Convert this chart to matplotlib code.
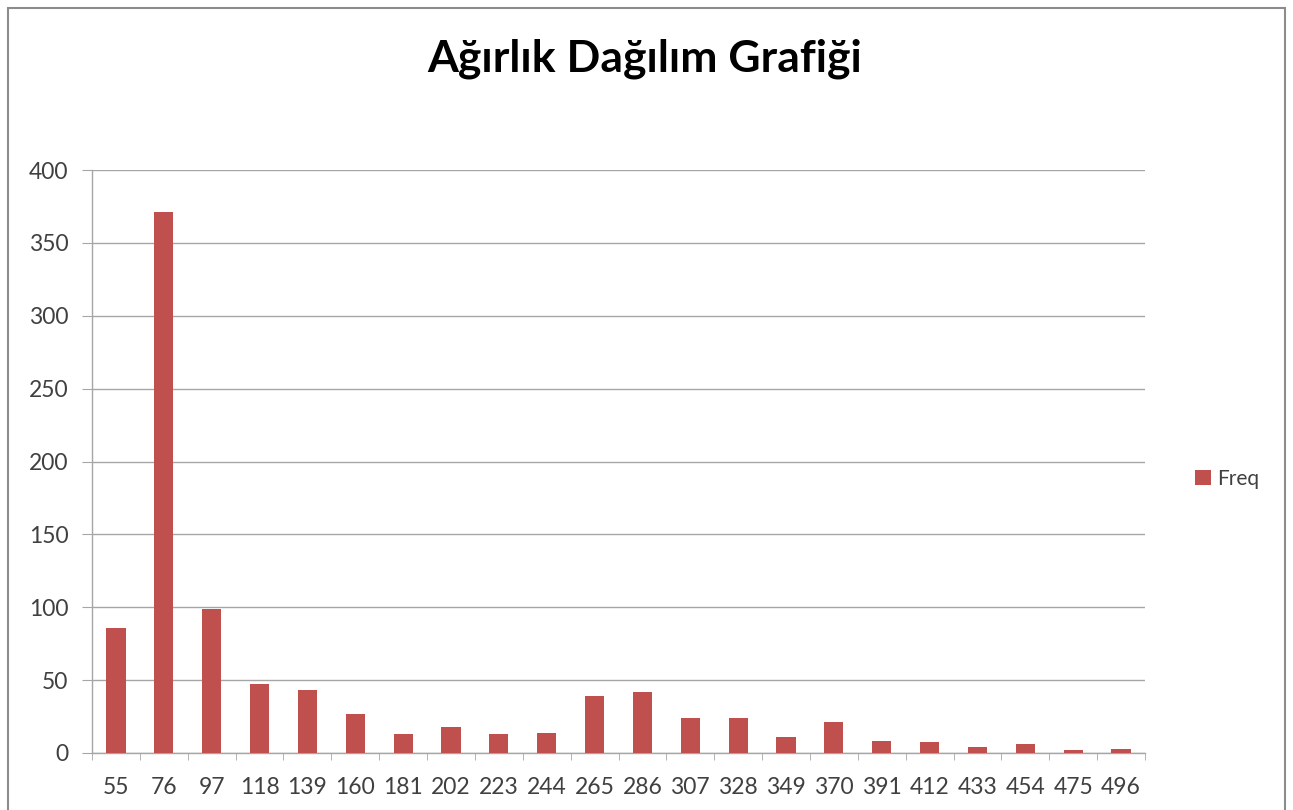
import matplotlib
matplotlib.use('agg')
from matplotlib import pyplot as plt
from matplotlib.patches import Rectangle
import numpy as np

categories = ['55', '76', '97', '118', '139', '160', '181', '202', '223', '244', '265',
              '286', '307', '328', '349', '370', '391', '412', '433', '454', '475', '496']
freq = [86, 371, 99, 47, 43, 27, 13, 18, 13, 14, 39,
        42, 24, 24, 11, 21, 8, 7.5, 4, 6, 2, 2.5]
y_ticks = [0, 50, 100, 150, 200, 250, 300, 350, 400]

plt.rcParams['font.family'] = ['Lato', 'DejaVu Sans']

fig = plt.figure(figsize=(12.93, 8.10), dpi=100)
ax = fig.add_axes([0.0712, 0.0704, 0.8143, 0.7196])

x = np.arange(len(categories))
bars = ax.bar(x, freq, width=0.4, color='#C0504D', label='Freq', zorder=3)

ax.set_xlim(-0.5, len(categories) - 0.5)
ax.set_ylim(0, 400)
ax.set_yticks(y_ticks)
ax.set_xticks(x)
ax.set_xticklabels(categories)
ax.set_xticks(np.arange(-0.5, len(categories), 1.0), minor=True)

ax.grid(axis='y', color='#A6A6A6', linewidth=1.0, zorder=0)
ax.set_axisbelow(True)

for s in ['top', 'right']:
    ax.spines[s].set_visible(False)
for s in ['left', 'bottom']:
    ax.spines[s].set_color('#A6A6A6')
    ax.spines[s].set_linewidth(1.0)

ax.tick_params(axis='x', which='major', length=0, pad=17, labelsize=16.5, labelcolor='#404040')
ax.tick_params(axis='x', which='minor', length=5, color='#A6A6A6', direction='out')
ax.tick_params(axis='y', length=7, color='#A6A6A6', pad=10, labelsize=16.5, labelcolor='#404040')

fig.suptitle('Ağırlık Dağılım Grafiği', x=0.4985, y=0.928, fontsize=32, fontweight='bold',
             color='#000000', va='center')

ax.legend(loc='center left', bbox_to_anchor=(1.03, 0.47), frameon=False, fontsize=15,
          handlelength=0.75, handleheight=0.75, handletextpad=0.3, labelcolor='#404040')

# outer frame around the chart area
fig.patches.append(Rectangle((8 / 1293, -0.05), (1285 - 8) / 1293, (802 / 810) + 0.05,
                             transform=fig.transFigure, fill=False, edgecolor='#8C8C8C',
                             linewidth=1.5))

fig.savefig('out.png', dpi=100, facecolor='white')
plt.close(fig)
